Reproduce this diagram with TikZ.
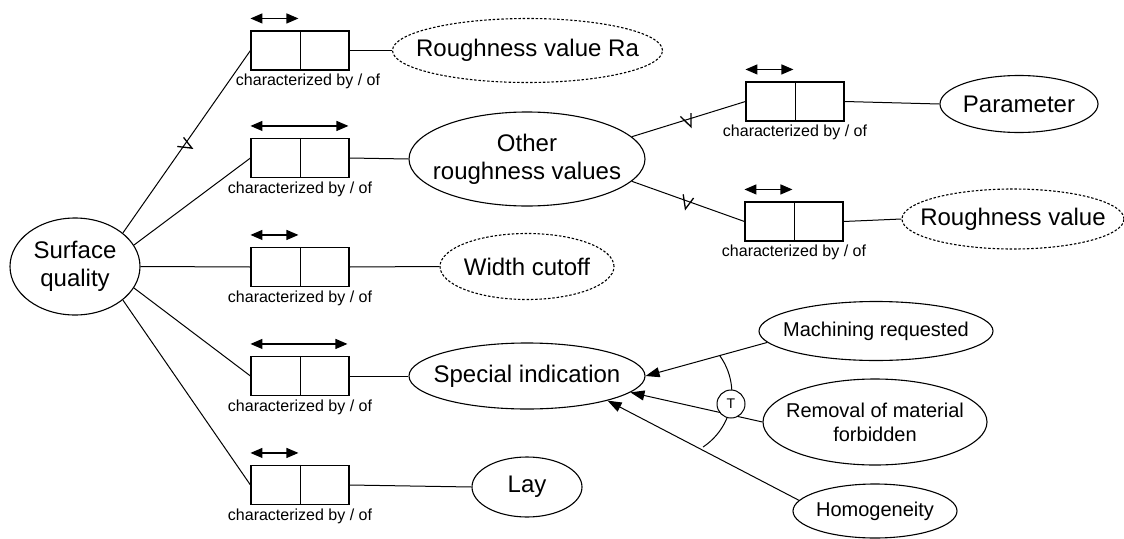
\documentclass[tikz,border=0pt]{standalone}
\usepackage{fontspec}
\setmainfont{Liberation Sans}
\usetikzlibrary{shapes.geometric,arrows.meta}

\newcommand\bigfont{\fontsize{24}{28}\selectfont}
\newcommand\midfont{\fontsize{20}{24}\selectfont}
\newcommand\capfont{\fontsize{16}{19}\selectfont}
\newcommand\tfont{\fontsize{14}{16}\selectfont}

% relationship box: name, x, y, width of the double arrow, caption shift
\newcommand\charbox[5]{%
  \node[rbox] (#1) at (#2,#3) {};
  \draw[link] (#1.north) -- (#1.south);
  \draw[dbl] ([yshift=12pt]#1.north west) -- ++(#4,0);
  \node[captext, anchor=base] (#1c) at ([yshift=-15pt,xshift=#5pt]#1.south) {characterized by / of};
}

% entity: outline style, text style, name, centre, width, height, text
\newcommand\entity[7]{%
  \node[#1, minimum width=#5pt, minimum height=#6pt] (#3) at (#4) {};
  \node[#2] (#3t) at (#3.center) {#7};
}

\begin{document}
\begin{tikzpicture}[x=1pt,y=1pt,
  ent/.style={ellipse, draw, line width=1.1pt, inner sep=0pt},
  opt/.style={ent, dash pattern=on 2.5pt off 1.8pt},
  bigtxt/.style={font=\bigfont, align=center, inner sep=0pt},
  midtxt/.style={font=\midfont, align=center, inner sep=0pt},
  rbox/.style={draw, line width=1.1pt, minimum width=98pt, minimum height=39pt, inner sep=0pt},
  captext/.style={font=\capfont, inner sep=0pt},
  link/.style={line width=1pt},
  dbl/.style={line width=1.2pt, {Triangle[length=12pt,width=10pt]}-{Triangle[length=12pt,width=10pt]}},
  imp/.style={link, -{Triangle[length=14pt,width=10pt]}},
  vmark/.pic={\draw[line width=1.3pt] (-7,5) -- (0,-8) -- (4,5);}
]
\useasboundingbox (0,0) rectangle (1124,-538);

% root entity
\entity{ent}{bigtxt}{sq}{75,-266.5}{130}{97}{Surface\\quality}

% relationship boxes of the first level
\charbox{b1}{300}{-50.5}{48}{8}
\charbox{b2}{300}{-158}{98}{0}
\charbox{b3}{300}{-267}{48}{0}
\charbox{b4}{300}{-376}{97}{0}
\charbox{b5}{300}{-485}{48}{0}

% attribute entities
\entity{opt}{bigtxt}{ra}{527.5,-50.5}{270}{64}{Roughness value Ra}
\entity{ent}{bigtxt}{oth}{527,-159}{236}{94}{Other\\roughness values}
\entity{opt}{bigtxt}{wc}{527,-266.5}{174}{66}{Width cutoff}
\entity{ent}{bigtxt}{spec}{527,-376}{236}{66}{Special indication}
\entity{ent}{bigtxt}{lay}{527,-487}{110}{60}{Lay}

% second level
\charbox{bp}{795}{-101.5}{48}{0}
\charbox{brv}{794}{-221.5}{48}{0}
\entity{ent}{bigtxt}{par}{1019,-104}{158}{57}{Parameter}
\entity{opt}{bigtxt}{rv}{1013,-219}{222}{60}{Roughness value}

% kinds of special indication
\entity{ent}{midtxt}{mach}{876,-331}{234}{59}{Machining requested}
\entity{ent}{midtxt}{rem}{875,-422}{224}{86}{Removal of material\\forbidden}
\entity{ent}{midtxt}{hom}{875,-511}{164}{54}{Homogeneity}

% connectors of the root
\draw[link] (sq.35) -- (b1.west) pic[pos=0.49, sloped]{vmark};
\draw[link] (sq.20) -- (b2.west);
\draw[link] (sq.0) -- (b3.west);
\draw[link] (sq.-20) -- (b4.west);
\draw[link] (sq.-35) -- (b5.west);

\draw[link] (b1.east) -- (ra.west);
\draw[link] (b2.east) -- (oth.west);
\draw[link] (b3.east) -- (wc.west);
\draw[link] (b4.east) -- (spec.west);
\draw[link] (b5.east) -- (lay.west);

\draw[link] (oth.12) -- (bp.west) pic[pos=0.5, sloped]{vmark};
\draw[link] (oth.-12) -- (brv.west) pic[pos=0.5, sloped]{vmark};
\draw[link] (bp.east) -- (par.west);
\draw[link] (brv.east) -- (rv.west);

% specialisation with total-coverage arc
\draw[imp] (mach.186) -- (spec.east);
\draw[imp] (rem.west) -- (spec.-9);
\draw[imp] (hom.172) -- (spec.-17);
\coordinate (arcc) at (667.5,-393.3);
\draw[link] ([shift={(35.4:64.4)}]arcc) arc[start angle=35.4, end angle=-56.5, radius=64.4];
\node[circle, draw, line width=1pt, fill=white, minimum size=28pt, inner sep=0pt, font=\tfont] (tot) at (731,-404) {T};
\end{tikzpicture}
\end{document}
